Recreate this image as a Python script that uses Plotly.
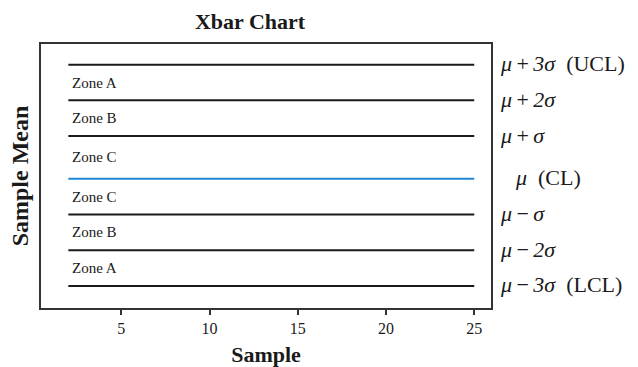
import plotly.graph_objects as go

# Data
samples = list(range(2, 26))
level_names = ["UCL", "+2s", "+1s", "CL", "-1s", "-2s", "LCL"]
level_values = [3.2, 2.2, 1.2, 0.0, -1.0, -2.0, -3.0]
level_labels = [
    "<i>μ</i>\u2009+\u2009<i>3σ</i>\u00a0\u00a0(UCL)",
    "<i>μ</i>\u2009+\u2009<i>2σ</i>",
    "<i>μ</i>\u2009+\u2009<i>σ</i>",
    "<i>μ</i>\u00a0\u00a0(CL)",
    "<i>μ</i>\u2009−\u2009<i>σ</i>",
    "<i>μ</i>\u2009−\u2009<i>2σ</i>",
    "<i>μ</i>\u2009−\u2009<i>3σ</i>\u00a0\u00a0(LCL)",
]
zone_labels = ["Zone A", "Zone B", "Zone C", "Zone C", "Zone B", "Zone A"]
x_ticks = [5, 10, 15, 20, 25]

FONT = "Liberation Serif, Times New Roman, serif"
BLACK = "#1a1a1a"
BLUE = "#1f86d6"

fig = go.Figure()
for name, v in zip(level_names, level_values):
    fig.add_trace(go.Scatter(
        x=samples, y=[v] * len(samples), mode="lines", name=name,
        line=dict(color=BLUE if name == "CL" else BLACK, width=2),
        hoverinfo="skip", showlegend=False,
    ))

annotations = []
for i, lab in enumerate(zone_labels):
    yc = (level_values[i] + level_values[i + 1]) / 2
    annotations.append(dict(
        x=samples[0], y=yc, xref="x", yref="y", text=lab, showarrow=False,
        xanchor="left", yanchor="middle", xshift=2,
        font=dict(family=FONT, size=15, color=BLACK),
    ))
for name, v, lab in zip(level_names, level_values, level_labels):
    annotations.append(dict(
        x=1, y=v, xref="paper", yref="y", text=lab, showarrow=False,
        xanchor="left", yanchor="middle",
        xshift=22 if name == "CL" else 7, yshift=1,
        font=dict(family=FONT, size=22, color=BLACK),
    ))

fig.update_layout(
    width=638, height=367,
    margin=dict(l=41, r=147, t=44, b=59, autoexpand=False),
    paper_bgcolor="white", plot_bgcolor="white",
    font=dict(family=FONT, color=BLACK),
    title=dict(text="<b>Xbar Chart</b>", x=250 / 638, xanchor="center",
               y=1 - 21 / 367, yanchor="middle", xref="container",
               yref="container", automargin=False,
               font=dict(family=FONT, size=22, color=BLACK)),
    annotations=annotations,
    showlegend=False,
)
fig.update_xaxes(
    range=[0.45, 25.95], tickvals=x_ticks, ticks="outside", ticklen=5,
    tickwidth=1.5, tickcolor="#333", showline=True, mirror=True,
    linecolor="#333", linewidth=2, showgrid=False, zeroline=False,
    automargin=False,
    tickfont=dict(family=FONT, size=16, color=BLACK),
    title=dict(text="<b>Sample</b>", standoff=11,
               font=dict(family=FONT, size=22, color=BLACK)),
)
fig.update_yaxes(
    range=[-3.62, 3.78], showticklabels=False, ticks="",
    showline=True, mirror=True, linecolor="#333", linewidth=2,
    showgrid=False, zeroline=False, automargin=False,
    title=dict(text="<b>Sample Mean</b>", standoff=4,
               font=dict(family=FONT, size=24, color=BLACK)),
)

fig.write_html("out.html", config={"displayModeBar": False},
               post_script="document.body.style.margin='0';")
